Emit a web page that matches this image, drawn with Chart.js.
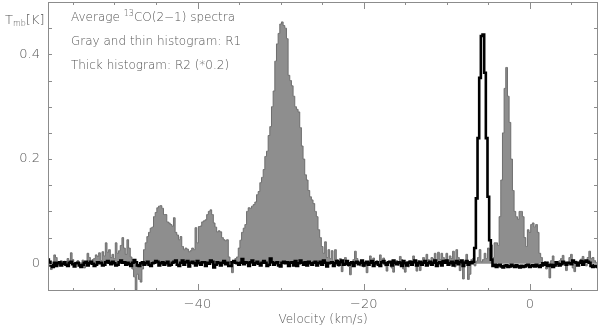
<!DOCTYPE html>
<html>
<head>
<meta charset="utf-8">
<script src="https://cdn.jsdelivr.net/npm/chart.js@4.4.0/dist/chart.umd.min.js"></script>
<style>
  body { margin: 0; background: #fff; }
  #wrap { position: relative; width: 600px; height: 327px; }
  .note { position: absolute; left: 71px; font: 200 12px "DejaVu Sans", sans-serif; color: #555; white-space: nowrap; line-height: 14px; }
  .note sup { font-size: 8px; vertical-align: 5px; line-height: 0; }
  #ylab { position: absolute; left: 5px; top: 12px; font: 200 13px "DejaVu Sans", sans-serif; color: #555; white-space: nowrap; }
  #ylab sub { font-size: 8px; vertical-align: -2px; }
</style>
</head>
<body>
<div id="wrap">
  <canvas id="spec" width="600" height="327"></canvas>
  <div id="ylab">T<sub>mb</sub>[K]</div>
  <div class="note" style="top:10px">Average <sup>13</sup>CO(2−1) spectra</div>
  <div class="note" style="top:34px">Gray and thin histogram: R1</div>
  <div class="note" style="top:58px">Thick histogram: R2 (*0.2)</div>
</div>
<script>
// channel centres, 0.2 km/s apart, from -58 to 8.2 km/s
const velStart = -58;
const velStep = 0.2;

// R1, gray thin histogram (K), one row = 2 km/s
const r1 = [
  0.008, 0.004, -0.011, -0.006, 0.017, 0.012, 0.003, -0.004, 0.006, 0.002,
  0.005, -0.003, 0.010, 0.004, 0.021, 0.008, -0.004, 0.002, 0.006, -0.002,
  0.002, 0.007, -0.008, 0.004, 0.020, 0.012, 0.003, 0.008, 0.010, 0.017,
  0.014, 0.021, 0.006, 0.023, 0.015, 0.040, 0.022, 0.027, 0.012, 0.018,
  0.010, 0.040, 0.020, 0.025, 0.035, 0.050, 0.030, 0.018, 0.046, 0.030,
  0.013, -0.010, -0.025, -0.050, -0.020, -0.030, -0.035, -0.010, 0.027, 0.040,
  0.052, 0.060, 0.068, 0.070, 0.090, 0.098, 0.107, 0.110, 0.111, 0.106,
  0.094, 0.094, 0.080, 0.078, 0.075, 0.072, 0.088, 0.060, 0.055, 0.046,
  0.052, 0.033, 0.027, 0.030, 0.028, 0.023, 0.025, 0.030, 0.027, 0.069,
  0.040, 0.071, 0.072, 0.080, 0.082, 0.084, 0.094, 0.100, 0.103, 0.094,
  0.078, 0.070, 0.061, 0.063, 0.061, 0.050, 0.046, 0.044, 0.046, 0.013,
  0.004, -0.017, 0.002, 0.010, 0.013, 0.030, 0.045, 0.060, 0.068, 0.075,
  0.100, 0.107, 0.106, 0.110, 0.113, 0.118, 0.132, 0.138, 0.155, 0.165,
  0.180, 0.205, 0.215, 0.245, 0.262, 0.300, 0.330, 0.387, 0.420, 0.440,
  0.458, 0.462, 0.455, 0.450, 0.430, 0.360, 0.350, 0.340, 0.320, 0.300,
  0.295, 0.290, 0.260, 0.225, 0.200, 0.170, 0.160, 0.140, 0.128, 0.122,
  0.115, 0.100, 0.090, 0.065, 0.050, 0.033, 0.020, 0.042, 0.012, 0.027,
  0.010, 0.025, 0.005, 0.027, 0.008, -0.005, 0.010, -0.015, 0.004, 0.012,
  0.006, -0.005, -0.021, 0.003, 0.008, 0.024, 0.010, 0.002, -0.004, 0.006,
  -0.006, 0.004, -0.017, 0.003, 0.015, 0.005, 0.011, -0.002, 0.006, 0.004,
  0.017, 0.002, 0.011, -0.004, -0.014, 0.005, 0.003, -0.008, -0.016, 0.004,
  0.006, -0.003, 0.014, 0.008, -0.010, -0.016, 0.004, -0.006, 0.006, 0.003,
  0.015, 0.004, -0.014, 0.006, -0.013, 0.003, 0.012, 0.006, 0.018, 0.008,
  0.005, 0.012, 0.010, 0.020, 0.006, 0.022, 0.008, 0.020, 0.012, 0.006,
  0.020, 0.004, 0.015, 0.010, 0.024, -0.006, 0.027, 0.012, -0.013, 0.006,
  -0.029, 0.005, 0.018, -0.030, -0.020, 0.008, 0.010, -0.004, 0.005, 0.012,
  0.027, 0.004, 0.008, 0.020, 0.010, 0.030, 0.026, 0.036, 0.012, 0.040,
  0.040, 0.035, 0.090, 0.160, 0.250, 0.335, 0.375, 0.320, 0.270, 0.200,
  0.140, 0.100, 0.090, 0.085, 0.100, 0.100, 0.090, 0.050, 0.033, 0.065,
  0.060, 0.075, 0.078, 0.070, 0.075, 0.060, 0.020, 0.012, -0.005, 0.004,
  -0.010, 0.003, -0.027, 0.006, 0.015, -0.004, 0.002, -0.005, 0.006, 0.010,
  0.016, 0.004, -0.013, 0.003, 0.012, 0.018, -0.008, -0.015, 0.005, -0.003,
  0.004, 0.009, 0.014, 0.002, -0.004, 0.012, 0.024, 0.010, 0.012, 0.006,
  0.002, 0.004
];

// R2 (scaled by 0.2), thick black histogram (K)
const r2 = [
  0.008, 0.004, -0.003, -0.006, 0.002, -0.004, 0.001, 0.003, -0.003, 0.000,
  0.003, -0.002, -0.004, 0.002, 0.004, -0.001, -0.005, 0.001, 0.002, -0.003,
  -0.006, -0.002, 0.002, 0.004, -0.003, 0.001, 0.004, 0.000, -0.004, -0.002,
  0.003, 0.001, 0.002, -0.003, -0.002, 0.003, 0.005, 0.002, -0.001, 0.004,
  0.001, -0.003, -0.002, 0.003, 0.006, 0.002, 0.003, -0.002, 0.002, -0.001,
  -0.004, 0.002, 0.007, 0.003, -0.003, -0.004, 0.001, 0.003, -0.002, 0.001,
  0.004, -0.002, -0.004, 0.001, 0.002, 0.005, 0.004, -0.003, 0.001, 0.003,
  -0.002, 0.001, 0.004, -0.003, -0.002, 0.002, 0.004, 0.006, -0.002, -0.004,
  0.002, 0.006, -0.002, 0.003, 0.005, -0.005, 0.002, 0.004, 0.001, -0.003,
  0.005, 0.001, -0.002, 0.003, 0.003, -0.004, 0.002, 0.000, 0.006, 0.004,
  -0.007, -0.002, 0.003, 0.001, -0.003, 0.002, 0.005, -0.001, 0.002, -0.004,
  -0.004, 0.003, 0.005, 0.002, 0.001, -0.002, 0.002, 0.009, -0.001, 0.003,
  0.002, -0.004, 0.003, 0.006, -0.002, 0.001, 0.004, 0.000, -0.003, 0.002,
  0.005, 0.002, -0.004, -0.002, 0.010, 0.003, -0.002, 0.001, 0.003, -0.003,
  -0.005, 0.002, 0.004, 0.001, 0.003, -0.004, 0.002, 0.003, -0.003, 0.005,
  -0.004, 0.001, 0.006, 0.002, -0.002, 0.003, -0.003, 0.004, 0.001, -0.002,
  0.002, 0.004, -0.003, 0.001, 0.004, -0.002, 0.006, 0.002, -0.005, 0.001,
  0.002, 0.003, -0.004, 0.001, 0.005, -0.002, 0.003, 0.006, -0.002, 0.000,
  0.005, -0.002, 0.001, 0.003, -0.004, 0.002, 0.004, -0.001, 0.002, 0.006,
  -0.003, 0.001, 0.004, -0.002, 0.002, 0.005, -0.004, 0.001, 0.003, -0.002,
  -0.004, 0.003, 0.005, 0.001, -0.002, 0.003, 0.004, -0.003, 0.006, 0.002,
  -0.001, 0.003, 0.002, -0.004, 0.005, 0.001, -0.003, 0.002, 0.004, -0.002,
  0.003, 0.006, -0.003, 0.001, 0.004, -0.002, 0.002, 0.005, -0.003, 0.001,
  0.004, -0.002, 0.002, 0.006, -0.004, 0.001, 0.003, -0.003, 0.005, 0.002,
  0.006, -0.002, 0.001, 0.004, -0.003, 0.002, 0.005, -0.001, 0.003, 0.006,
  -0.004, 0.002, 0.005, -0.002, 0.003, 0.001, 0.004, 0.030, 0.125, 0.240,
  0.355, 0.435, 0.438, 0.365, 0.240, 0.128, 0.045, 0.008, -0.004, -0.002,
  -0.006, -0.003, -0.002, -0.005, -0.007, -0.004, -0.003, -0.006, -0.005, -0.002,
  -0.004, -0.006, -0.003, -0.005, -0.007, -0.004, -0.006, -0.005, -0.003, -0.002,
  -0.006, -0.004, -0.003, -0.005, -0.002, -0.004, -0.006, -0.003, 0.001, -0.002,
  0.002, -0.004, -0.003, -0.002, -0.006, -0.003, 0.003, 0.000, -0.003, -0.001,
  0.004, 0.001, -0.002, 0.002, 0.001, -0.001, 0.006, 0.003, 0.002, -0.003,
  0.002, 0.005, -0.002, 0.004, 0.006, 0.004, 0.002, -0.004, -0.006, -0.003,
  -0.005, -0.006
];

const xLabelTicks = [-40, -20, 0];
const yLabelTicks = [0, 0.2, 0.4];
const xMinorStep = 5;
const yMinorStep = 0.05;

const velocity = r1.map((_, i) => +(velStart + i * velStep).toFixed(2));
const toPoints = arr => arr.map((t, i) => ({ x: velocity[i], y: t }));

// PGPLOT style box: frame plus inward ticks on all four sides
const boxTicks = {
  id: 'boxTicks',
  afterDatasetsDraw(chart) {
    const { ctx, chartArea: a, scales: { x, y } } = chart;
    ctx.save();
    ctx.strokeStyle = '#8c8c8c';
    ctx.lineWidth = 1;
    ctx.strokeRect(a.left + 0.5, a.top + 0.5, a.right - a.left - 1, a.bottom - a.top - 1);
    ctx.beginPath();
    for (let v = Math.ceil(x.min / xMinorStep) * xMinorStep; v <= x.max; v += xMinorStep) {
      const px = Math.round(x.getPixelForValue(v)) + 0.5;
      const len = xLabelTicks.includes(v) ? 7 : 3;
      ctx.moveTo(px, a.bottom); ctx.lineTo(px, a.bottom - len);
      ctx.moveTo(px, a.top); ctx.lineTo(px, a.top + len);
    }
    for (let k = Math.ceil(y.min / yMinorStep); k * yMinorStep <= y.max; k++) {
      const py = Math.round(y.getPixelForValue(k * yMinorStep)) + 0.5;
      ctx.moveTo(a.left, py); ctx.lineTo(a.left + 4, py);
      ctx.moveTo(a.right, py); ctx.lineTo(a.right - 4, py);
    }
    ctx.stroke();
    ctx.restore();
  }
};

const tickFont = { family: 'DejaVu Sans', size: 13, weight: 200 };

new Chart(document.getElementById('spec'), {
  type: 'line',
  data: {
    datasets: [
      {
        label: 'R2 (*0.2)',
        data: toPoints(r2),
        stepped: 'middle',
        borderColor: '#000',
        borderWidth: 2.6,
        pointRadius: 0,
        fill: false,
        order: 0
      },
      {
        label: 'R1',
        data: toPoints(r1),
        stepped: 'middle',
        borderColor: '#6e6e6e',
        backgroundColor: '#8e8e8e',
        borderWidth: 1,
        pointRadius: 0,
        fill: 'origin',
        order: 1
      }
    ]
  },
  options: {
    responsive: false,
    animation: false,
    layout: { padding: { top: 2, right: 2, left: 0, bottom: 0 } },
    plugins: { legend: { display: false }, tooltip: { enabled: false } },
    scales: {
      x: {
        type: 'linear',
        min: -58,
        max: 8.2,
        border: { display: false },
        grid: { display: false, drawTicks: false },
        ticks: {
          stepSize: 5,
          autoSkip: false,
          maxRotation: 0,
          padding: 6,
          color: '#555',
          font: tickFont,
          callback: v => xLabelTicks.includes(v) ? (v < 0 ? '\u2212' + Math.abs(v) : String(v)) : ''
        },
        title: {
          display: true,
          text: 'Velocity (km/s)',
          color: '#555',
          font: { family: 'DejaVu Sans', size: 12, weight: 200 },
          padding: { top: 0, bottom: 0 }
        },
        afterFit: s => { s.height = 36; s.paddingLeft = 0; s.paddingRight = 0; }
      },
      y: {
        min: -0.052,
        max: 0.5,
        border: { display: false },
        grid: { display: false, drawTicks: false },
        ticks: {
          stepSize: 0.05,
          autoSkip: false,
          padding: 8,
          color: '#555',
          font: tickFont,
          callback: v => {
            const hit = yLabelTicks.find(t => Math.abs(t - v) < 1e-6);
            return hit === undefined ? '' : (hit === 0 ? '0' : hit.toFixed(1));
          }
        },
        afterFit: s => { s.width = 48; s.paddingTop = 0; s.paddingBottom = 0; }
      }
    }
  },
  plugins: [boxTicks]
});
</script>
</body>
</html>
